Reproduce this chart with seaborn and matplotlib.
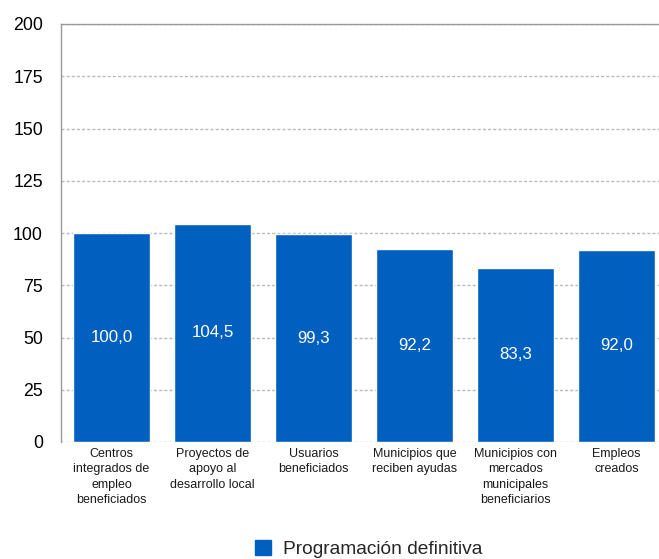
import matplotlib
matplotlib.use("Agg")
import matplotlib.pyplot as plt
import seaborn as sns
import pandas as pd
from matplotlib.patches import Patch

categories = [
    "Centros\nintegrados de\nempleo\nbeneficiados",
    "Proyectos de\napoyo al\ndesarrollo local",
    "Usuarios\nbeneficiados",
    "Municipios que\nreciben ayudas",
    "Municipios con\nmercados\nmunicipales\nbeneficiarios",
    "Empleos\ncreados",
]
values = [100.0, 104.5, 99.3, 92.2, 83.3, 92.0]
series_name = "Programación definitiva"
y_ticks = [0, 25, 50, 75, 100, 125, 150, 175, 200]

sns.set_style("white")
plt.rcParams["font.family"] = ["Liberation Sans", "DejaVu Sans"]

BLUE = "#005FBF"
GRID = "#BBBBBB"

df = pd.DataFrame({"cat": categories, "val": values})

fig = plt.figure(figsize=(6.59, 5.59), dpi=100)
ax = fig.add_axes([61 / 659, 117 / 559, 606 / 659, 418 / 559])

sns.barplot(data=df, x="cat", y="val", color=BLUE, saturation=1, width=0.76, ax=ax, zorder=3)

ax.set_xlim(-0.5, 5.5)
ax.set_ylim(0, 200)
ax.set_yticks(y_ticks)
ax.set_xlabel("")
ax.set_ylabel("")

for y in y_ticks:
    ax.axhline(y, color=GRID, lw=1.0, ls=(0, (2.2, 1.5)), zorder=1)

for s in ["right", "bottom"]:
    ax.spines[s].set_visible(False)
ax.spines["left"].set_color("#999999")
ax.spines["left"].set_linewidth(1.0)
ax.spines["top"].set_color("#999999")
ax.spines["top"].set_linewidth(1.0)

ax.tick_params(axis="y", length=0, pad=13, labelsize=12.8, labelcolor="#000000")
ax.tick_params(axis="x", length=0, pad=4, labelsize=9, labelcolor="#1a1a1a")
for lab in ax.get_xticklabels():
    lab.set_linespacing(1.4)
    lab.set_va("top")

for i, v in enumerate(values):
    ax.text(i, v / 2, f"{v:.1f}".replace(".", ","), ha="center", va="center",
            color="white", fontsize=12.2, zorder=4)

ax.legend(handles=[Patch(facecolor=BLUE, edgecolor=BLUE, label=series_name)],
          loc="center", bbox_to_anchor=(0.508, -0.256), frameon=False,
          fontsize=13.8, handlelength=0.8, handleheight=0.8, handletextpad=0.65)

fig.savefig("out.png", dpi=100)
